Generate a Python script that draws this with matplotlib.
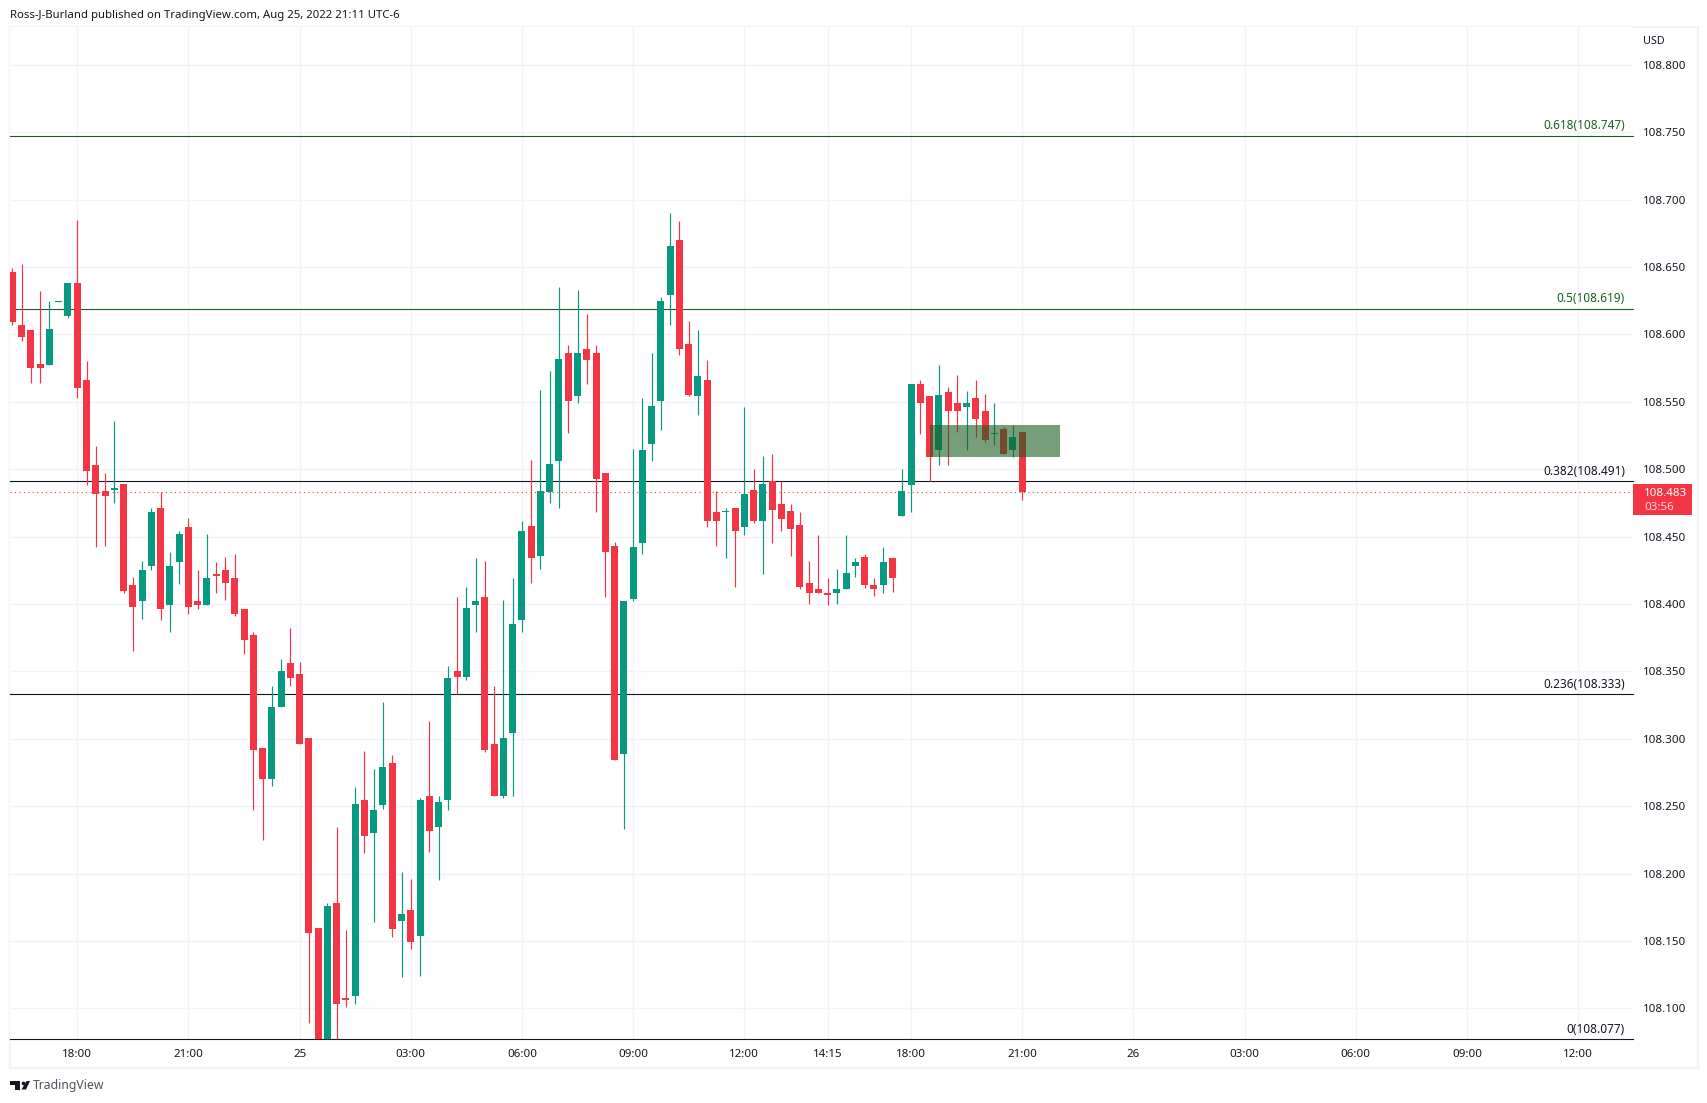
import numpy as np
import matplotlib
matplotlib.use("Agg")
import matplotlib.pyplot as plt
from matplotlib.patches import Rectangle, Polygon

# 15 min bars, first bar is 7 bars before the 18:00 tick
first_bar = -7
opens = [108.646, 108.607, 108.603, 108.578, 108.577, 108.624, 108.614, 108.638, 108.566, 108.503,
         108.484, 108.485, 108.489, 108.414, 108.402, 108.428, 108.471, 108.399, 108.431, 108.457,
         108.402, 108.399, 108.422, 108.425, 108.419, 108.396, 108.377, 108.293, 108.270, 108.324,
         108.356, 108.348, 108.301, 108.160, 108.077, 108.178, 108.108, 108.109, 108.255, 108.230,
         108.251, 108.282, 108.165, 108.173, 108.154, 108.258, 108.235, 108.255, 108.350, 108.346,
         108.399, 108.405, 108.296, 108.258, 108.304, 108.388, 108.458, 108.436, 108.483, 108.506,
         108.586, 108.554, 108.589, 108.586, 108.497, 108.443, 108.289, 108.404, 108.445, 108.519,
         108.551, 108.629, 108.670, 108.593, 108.554, 108.566, 108.468, 108.468, 108.471, 108.457,
         108.485, 108.462, 108.491, 108.474, 108.469, 108.459, 108.416, 108.411, 108.408, 108.408,
         108.411, 108.428, 108.435, 108.414, 108.414, 108.434, 108.465, 108.488, 108.563, 108.554,
         108.514, 108.557, 108.549, 108.546, 108.553, 108.543, 108.526, 108.530, 108.514, 108.528]
highs = [108.649, 108.652, 108.603, 108.632, 108.625, 108.625, 108.638, 108.685, 108.580, 108.517,
         108.497, 108.536, 108.489, 108.420, 108.432, 108.471, 108.483, 108.439, 108.454, 108.464,
         108.425, 108.452, 108.431, 108.435, 108.437, 108.396, 108.379, 108.293, 108.339, 108.359,
         108.382, 108.357, 108.301, 108.160, 108.178, 108.235, 108.158, 108.264, 108.291, 108.278,
         108.327, 108.288, 108.201, 108.196, 108.256, 108.313, 108.258, 108.354, 108.405, 108.413,
         108.434, 108.432, 108.339, 108.403, 108.419, 108.462, 108.507, 108.559, 108.573, 108.635,
         108.592, 108.633, 108.615, 108.592, 108.497, 108.446, 108.402, 108.515, 108.553, 108.586,
         108.628, 108.690, 108.684, 108.610, 108.603, 108.581, 108.484, 108.471, 108.471, 108.546,
         108.500, 108.510, 108.511, 108.491, 108.474, 108.468, 108.432, 108.451, 108.419, 108.426,
         108.451, 108.434, 108.437, 108.419, 108.442, 108.434, 108.500, 108.563, 108.566, 108.554,
         108.577, 108.561, 108.570, 108.558, 108.566, 108.556, 108.549, 108.531, 108.533, 108.528]
lows = [108.607, 108.595, 108.564, 108.564, 108.577, 108.624, 108.612, 108.553, 108.488, 108.442,
        108.443, 108.475, 108.408, 108.365, 108.389, 108.425, 108.388, 108.379, 108.415, 108.393,
        108.396, 108.399, 108.408, 108.403, 108.391, 108.363, 108.247, 108.225, 108.265, 108.324,
        108.339, 108.296, 108.089, 108.077, 108.077, 108.077, 108.101, 108.103, 108.215, 108.164,
        108.248, 108.153, 108.123, 108.144, 108.124, 108.216, 108.195, 108.247, 108.333, 108.344,
        108.379, 108.290, 108.258, 108.256, 108.258, 108.379, 108.416, 108.426, 108.475, 108.471,
        108.527, 108.549, 108.563, 108.468, 108.405, 108.284, 108.233, 108.402, 108.437, 108.506,
        108.529, 108.607, 108.585, 108.554, 108.540, 108.457, 108.443, 108.434, 108.413, 108.451,
        108.460, 108.422, 108.445, 108.454, 108.436, 108.411, 108.400, 108.408, 108.399, 108.400,
        108.411, 108.420, 108.412, 108.406, 108.408, 108.409, 108.465, 108.468, 108.526, 108.491,
        108.503, 108.503, 108.528, 108.514, 108.524, 108.520, 108.518, 108.511, 108.509, 108.477]
closes = [108.609, 108.598, 108.575, 108.575, 108.604, 108.625, 108.638, 108.560, 108.499, 108.482,
          108.480, 108.486, 108.410, 108.398, 108.425, 108.468, 108.396, 108.428, 108.452, 108.398,
          108.399, 108.419, 108.421, 108.416, 108.393, 108.373, 108.292, 108.270, 108.324, 108.350,
          108.345, 108.296, 108.156, 108.077, 108.176, 108.103, 108.106, 108.252, 108.228, 108.247,
          108.279, 108.159, 108.170, 108.149, 108.255, 108.232, 108.253, 108.345, 108.346, 108.397,
          108.402, 108.292, 108.258, 108.301, 108.385, 108.454, 108.434, 108.484, 108.504, 108.582,
          108.551, 108.586, 108.581, 108.493, 108.439, 108.284, 108.402, 108.442, 108.514, 108.547,
          108.625, 108.666, 108.589, 108.555, 108.569, 108.462, 108.462, 108.468, 108.454, 108.482,
          108.462, 108.489, 108.470, 108.463, 108.456, 108.413, 108.408, 108.408, 108.407, 108.411,
          108.423, 108.431, 108.414, 108.411, 108.431, 108.419, 108.484, 108.563, 108.549, 108.509,
          108.555, 108.543, 108.543, 108.549, 108.537, 108.522, 108.527, 108.511, 108.524, 108.483]

fib_levels = [0.618, 0.5, 0.382, 0.236, 0]
fib_prices = [108.747, 108.619, 108.491, 108.333, 108.077]
fib_colors = ["#1B5E20", "#1B5E20", "#131722", "#131722", "#131722"]
fib_labels = ["0.618(108.747)", "0.5(108.619)", "0.382(108.491)", "0.236(108.333)", "0(108.077)"]

last_price = 108.483
# drawn zone, in bars and price
zone_bars = [92, 106.1]
zone_prices = [108.509, 108.533]

price_ticks = [108.10, 108.15, 108.20, 108.25, 108.30, 108.35, 108.40,
               108.45, 108.50, 108.55, 108.60, 108.65, 108.70, 108.75, 108.80]
time_pos = [0, 12, 24, 36, 48, 60, 72, 81, 90, 102, 114, 126, 138, 150, 162]
time_labels = ["18:00", "21:00", "25", "03:00", "06:00", "09:00", "12:00", "14:15",
               "18:00", "21:00", "26", "03:00", "06:00", "09:00", "12:00"]

RED = "#F23645"
GREEN = "#089981"
GRID = "#F0F3FA"
TEXT = "#131722"
W, H = 1708, 1103

plt.rcParams["font.family"] = ["Noto Sans", "DejaVu Sans"]
fig = plt.figure(figsize=(W / 100, H / 100), dpi=100, facecolor="white")


def px(x, y):
    # picture pixels -> figure fraction
    return x / W, 1 - y / H


left, right, top, bottom = 10, 1633, 27, 1039.5
ax = fig.add_axes([left / W, 1 - bottom / H, (right - left) / W, (bottom - top) / H])
ax.set_xlim(-7.26, 167.93)
ax.set_ylim(108.077, 108.8281)
for s in ax.spines.values():
    s.set_visible(False)

ax.set_yticks(price_ticks)
ax.set_yticklabels(["%.3f" % p for p in price_ticks])
ax.yaxis.tick_right()
ax.tick_params(axis="y", length=0, pad=7.0, labelsize=8.3, labelcolor=TEXT)
ax.set_xticks(time_pos)
ax.set_xticklabels(time_labels)
ax.tick_params(axis="x", length=0, pad=6.5, labelsize=8.3, labelcolor=TEXT)
ax.grid(True, color=GRID, lw=1.0, zorder=0)
ax.set_axisbelow(True)

# fib levels and last price sit behind the candles
for lvl, price, col, lab in zip(fib_levels, fib_prices, fib_colors, fib_labels):
    ax.axhline(price, color=col, lw=0.8, zorder=1, clip_on=False, snap=True)
    ax.annotate(lab, xy=(1, price), xycoords=("axes fraction", "data"), xytext=(-5.8, 2.8),
                textcoords="offset points", ha="right", va="bottom", fontsize=8.5, color=col)
ax.axhline(last_price, color=RED, lw=0.8, ls=(0, (1, 3)), zorder=1)

o = np.array(opens)
h = np.array(highs)
l = np.array(lows)
c = np.array(closes)
bars = np.arange(len(o)) + first_bar
colors = [GREEN if cl >= op else RED for op, cl in zip(o, c)]
ax.vlines(bars, l, h, colors=colors, lw=0.85, zorder=2)
body_low = np.minimum(o, c)
body_h = np.maximum(np.abs(c - o), 0.0009)
ax.bar(bars, body_h, bottom=body_low, width=0.756, color=colors, linewidth=0, zorder=3)

ax.add_patch(Rectangle((zone_bars[0], zone_prices[0]), zone_bars[1] - zone_bars[0],
                       zone_prices[1] - zone_prices[0], facecolor="#1B5E20", alpha=0.6,
                       linewidth=0, zorder=4))

# frame around the whole chart
x0, y1 = px(10, 1067.5)
x1, y0 = px(1698, 27)
fig.add_artist(Rectangle((x0, y1), x1 - x0, y0 - y1, transform=fig.transFigure, fill=False,
                         edgecolor=GRID, lw=1.6, zorder=0))

# last price tag on the price scale
x0, y1 = px(1633, 514.7)
x1, y0 = px(1692, 484)
fig.add_artist(Rectangle((x0, y1), x1 - x0, y0 - y1, transform=fig.transFigure, facecolor=RED,
                         linewidth=0, zorder=5))
fig.text(*px(1644, 493.5), "%.3f" % last_price, color="white", fontsize=8.3, fontweight="bold",
         va="center", ha="left", zorder=6)
fig.text(*px(1644, 507.5), "03:56", color="#FFD5D9", fontsize=8.3, va="center", ha="left", zorder=6)

fig.text(*px(1643, 41.5), "USD", color=TEXT, fontsize=7.8, va="center", ha="left")
fig.text(*px(10, 15.5), "Ross-J-Burland published on TradingView.com, Aug 25, 2022 21:11 UTC-6",
         color=TEXT, fontsize=8.2, va="center", ha="left")

# logo
logo_bar = [(10, 1081), (20.5, 1081), (20.5, 1089.5), (15.5, 1089.5), (15.5, 1085), (10, 1085)]
logo_slant = [(26.5, 1081), (30, 1081), (26, 1089.5), (21.5, 1089.5)]
fig.add_artist(Polygon([px(*p) for p in logo_bar], transform=fig.transFigure, facecolor=TEXT, linewidth=0))
fig.add_artist(Polygon([px(*p) for p in logo_slant], transform=fig.transFigure, facecolor=TEXT, linewidth=0))
cx, cy = px(23.3, 1083)
fig.add_artist(plt.Line2D([cx], [cy], marker="o", ms=2.7, mew=0, color=TEXT, transform=fig.transFigure))
fig.text(*px(33, 1085.5), "TradingView", color="#50535E", fontsize=8.8, va="center", ha="left")

fig.savefig("out.png", dpi=100, facecolor="white")
